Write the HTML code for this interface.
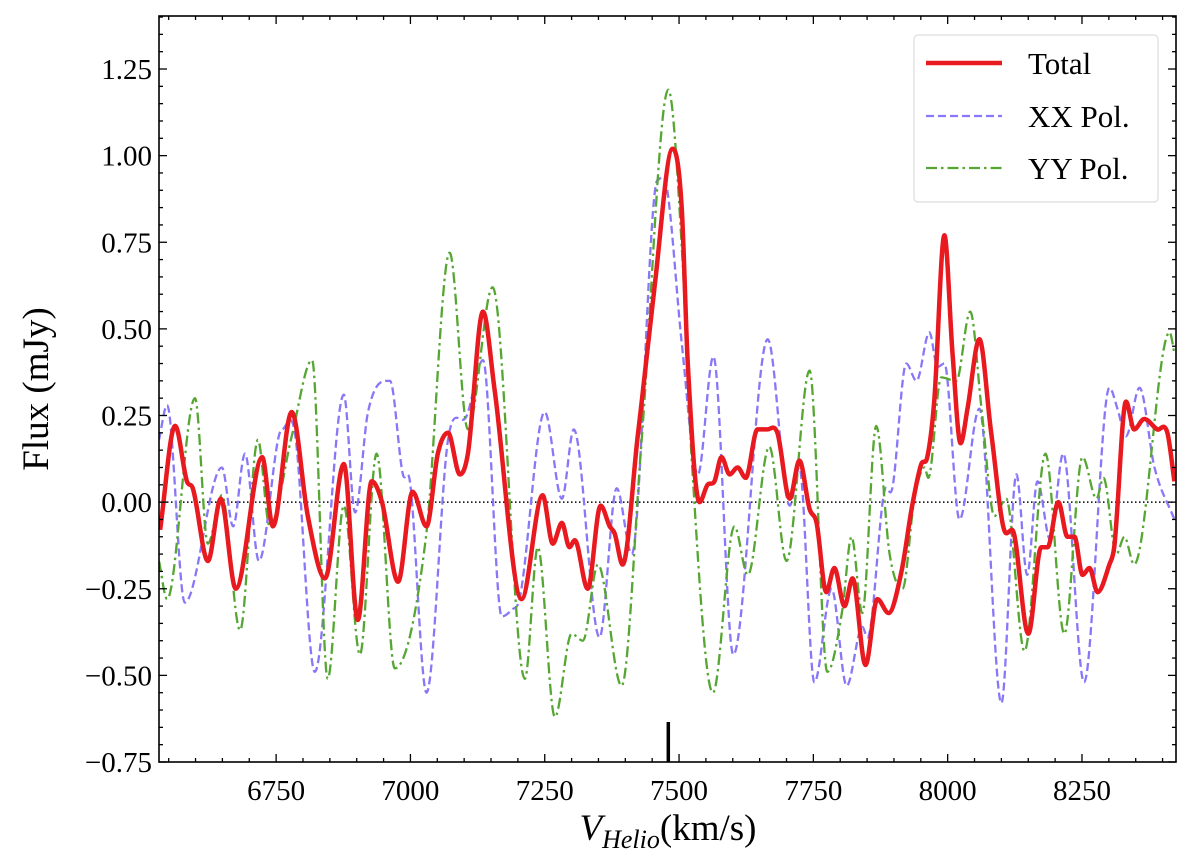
<!DOCTYPE html>
<html><head><meta charset="utf-8">
<style>
html,body{margin:0;padding:0;background:#fff;}
svg{display:block;font-family:"Liberation Serif","DejaVu Serif",serif;}
</style></head>
<body>
<svg id="chart" width="1200" height="857" viewBox="0 0 1200 857" xmlns="http://www.w3.org/2000/svg">
<g id="plot"></g>
</svg>
<script>
const totalV=[6534,6562,6584,6595,6623,6647,6675,6724,6744,6779,6809,6841,6876,6902,6928,6947,6977,7004,7030,7051,7070,7092,7107,7135,7157,7207,7246,7265,7282,7296,7306,7330,7354,7371,7380,7395,7423,7432,7455,7488,7505,7516,7538,7553,7566,7579,7594,7609,7624,7646,7665,7683,7706,7724,7743,7756,7774,7789,7808,7823,7847,7869,7890,7914,7934,7951,7962,7975,7994,8009,8024,8037,8059,8081,8109,8120,8150,8174,8186,8206,8223,8236,8251,8264,8279,8301,8310,8332,8347,8366,8390,8409,8422];
const totalF=[-0.08,0.22,0.06,0.04,-0.17,0.01,-0.25,0.13,-0.07,0.26,-0.04,-0.22,0.11,-0.34,0.06,0.0,-0.23,0.03,-0.07,0.14,0.2,0.08,0.14,0.55,0.32,-0.28,0.02,-0.12,-0.06,-0.13,-0.11,-0.25,-0.01,-0.07,-0.09,-0.18,0.19,0.31,0.63,1.02,0.85,0.41,0.0,0.05,0.06,0.13,0.08,0.1,0.07,0.21,0.21,0.2,0.01,0.12,-0.02,-0.06,-0.26,-0.19,-0.30,-0.22,-0.47,-0.28,-0.32,-0.20,-0.01,0.11,0.13,0.29,0.77,0.43,0.17,0.27,0.47,0.2,-0.09,-0.08,-0.38,-0.13,-0.13,0.0,-0.10,-0.10,-0.21,-0.19,-0.26,-0.18,-0.13,0.29,0.21,0.24,0.21,0.20,0.06];
const xxV=[6532,6547,6580,6649,6670,6692,6718,6761,6785,6822,6876,6897,6921,6962,6986,6999,7030,7070,7105,7135,7170,7189,7203,7250,7282,7304,7352,7384,7412,7460,7477,7505,7535,7564,7601,7665,7706,7724,7752,7784,7812,7841,7851,7882,7897,7923,7942,7966,7981,7994,8022,8059,8100,8128,8148,8167,8191,8215,8254,8301,8316,8332,8357,8385,8422];
const xxF=[0.18,0.28,-0.29,0.10,-0.07,0.14,-0.17,0.21,0.20,-0.49,0.31,-0.03,0.26,0.35,0.08,0.06,-0.55,0.18,0.25,0.41,-0.33,-0.31,-0.28,0.26,0.01,0.21,-0.39,0.04,-0.15,0.93,0.91,0.46,0.08,0.42,-0.44,0.47,-0.01,0.10,-0.52,-0.25,-0.53,-0.36,-0.39,0.03,0.04,0.40,0.35,0.49,0.39,0.40,-0.05,0.27,-0.58,0.08,-0.21,0.06,-0.11,0.14,-0.52,0.33,0.27,0.19,0.33,0.10,-0.05];
const yyV=[6532,6547,6599,6623,6649,6683,6716,6738,6779,6817,6846,6876,6906,6937,6971,7029,7073,7107,7153,7213,7237,7269,7300,7321,7349,7393,7430,7480,7505,7523,7563,7603,7628,7668,7700,7743,7776,7804,7821,7841,7867,7892,7916,7938,7957,7964,7988,8016,8042,8063,8087,8109,8143,8182,8217,8251,8277,8290,8314,8329,8347,8413,8422];
const yyF=[-0.17,-0.28,0.30,-0.12,0.02,-0.37,0.18,-0.07,0.19,0.41,-0.51,-0.01,-0.44,0.14,-0.48,-0.10,0.72,0.21,0.62,-0.51,-0.13,-0.62,-0.38,-0.40,-0.18,-0.53,0.17,1.19,0.74,0.14,-0.55,-0.07,-0.21,0.16,-0.17,0.38,-0.49,-0.31,-0.10,-0.32,0.22,-0.15,-0.25,0.01,0.10,0.07,0.36,0.35,0.55,0.27,-0.04,0.01,-0.43,0.14,-0.38,0.13,0.01,0.07,-0.15,-0.10,-0.18,0.49,0.43];
const xTicks=[6750,7000,7250,7500,7750,8000,8250];
const yTicks=[-0.75,-0.5,-0.25,0,0.25,0.5,0.75,1.0,1.25];
const yTickLabels=["\u22120.75","\u22120.50","\u22120.25","0.00","0.25","0.50","0.75","1.00","1.25"];
const markerV=[7480];

const L=159,R=1176,T=16,B=762;
const xMin=6532,xMax=8425,yMin=-0.75,yMax=1.403;
const X=v=>L+(v-xMin)/(xMax-xMin)*(R-L);
const Y=f=>B-(f-yMin)/(yMax-yMin)*(B-T);
const NS="http://www.w3.org/2000/svg";
const g=document.getElementById('plot');
function mk(tag,attrs,parent){const e=document.createElementNS(NS,tag);for(const k in attrs)e.setAttribute(k,attrs[k]);(parent||g).appendChild(e);return e;}

function smoothPath(vs,fs){
  const xs=vs.map(X),ys=fs.map(Y),n=xs.length;
  const d=[],m=new Array(n);
  for(let i=0;i<n-1;i++)d.push((ys[i+1]-ys[i])/(xs[i+1]-xs[i]));
  m[0]=d[0];m[n-1]=d[n-2];
  for(let i=1;i<n-1;i++){m[i]=(d[i-1]*d[i]<=0)?0:(d[i-1]+d[i])/2;}
  let p="M"+xs[0].toFixed(1)+","+ys[0].toFixed(1);
  for(let i=0;i<n-1;i++){const h=xs[i+1]-xs[i];
    p+=" C"+(xs[i]+h/3).toFixed(1)+","+(ys[i]+m[i]*h/3).toFixed(1)+" "+(xs[i+1]-h/3).toFixed(1)+","+(ys[i+1]-m[i+1]*h/3).toFixed(1)+" "+xs[i+1].toFixed(1)+","+ys[i+1].toFixed(1);}
  return p;
}
mk('clipPath',{id:'clip'}).appendChild(document.createElementNS(NS,'rect'));
const cr=g.querySelector('#clip rect');cr.setAttribute('x',L);cr.setAttribute('y',T);cr.setAttribute('width',R-L);cr.setAttribute('height',B-T);

const zl=mk('line',{x1:L,x2:R,y1:Y(0),y2:Y(0),stroke:'#000','stroke-width':1.5,'stroke-dasharray':'1.5,2.5'});



const pxx=mk('path',{d:smoothPath(xxV,xxF),fill:'none',stroke:'#8877f7','stroke-width':2.3,'stroke-dasharray':'8,4','clip-path':'url(#clip)'});


const pyy=mk('path',{d:smoothPath(yyV,yyF),fill:'none',stroke:'#55a632','stroke-width':2.3,'stroke-dasharray':'11,4,2.5,4','clip-path':'url(#clip)'});


const ptot=mk('path',{d:smoothPath(totalV,totalF),fill:'none',stroke:'#e8191f','stroke-width':4.5,'stroke-linejoin':'round','clip-path':'url(#clip)'});



markerV.forEach(v=>{const mline=mk('line',{x1:X(v),x2:X(v),y1:B-40,y2:B,stroke:'#000','stroke-width':3.5});

});

const frame=mk('rect',{x:L,y:T,width:R-L,height:B-T,fill:'none',stroke:'#000','stroke-width':1.6});



// ticks
for(let v=6550;v<=xMax;v+=50){const major=(v%250===0);const len=major?8:4;const x=X(v);
  mk('line',{x1:x,x2:x,y1:B,y2:B-len,stroke:'#000','stroke-width':1.3});
  mk('line',{x1:x,x2:x,y1:T,y2:T+len,stroke:'#000','stroke-width':1.3});}
for(let i=-15;i<=28;i++){const f=i*0.05;if(f<yMin-1e-9||f>yMax)continue;const major=(i%5===0);const len=major?8:4;const y=Y(f);
  mk('line',{x1:L,x2:L+len,y1:y,y2:y,stroke:'#000','stroke-width':1.3});
  mk('line',{x1:R,x2:R-len,y1:y,y2:y,stroke:'#000','stroke-width':1.3});}
xTicks.forEach(v=>{const t=mk('text',{x:X(v),y:B+38,'font-size':29,'text-anchor':'middle'});t.textContent=v;
  
  });
yTicks.forEach((f,i)=>{const t=mk('text',{x:152,y:Y(f)+10,'font-size':29,'text-anchor':'end'});t.textContent=yTickLabels[i];
  
  });

const xl=mk('text',{x:668,y:840,'font-size':37,'text-anchor':'middle'});
xl.innerHTML='<tspan font-style="italic">V</tspan><tspan font-style="italic" font-size="26" dy="8">Helio</tspan><tspan dy="-8">(km/s)</tspan>';


const yl=mk('text',{x:0,y:0,'font-size':37,'text-anchor':'middle',transform:'translate(48,389) rotate(-90)'});
yl.textContent='Flux (mJy)';



// legend
const lg=mk('g',{});


mk('rect',{x:914,y:35,width:244,height:167,rx:4,fill:'#fff','fill-opacity':0.85,stroke:'#ddd','stroke-width':1.2},lg);
const entries=[["Total",'#e8191f',4.5,'none',63],["XX Pol.",'#8877f7',2.3,'8,4',116],["YY Pol.",'#55a632',2.3,'11,4,2.5,4',168]];
entries.forEach(e=>{const eg=mk('g',{},lg);
  
  
  mk('line',{x1:926,x2:1002,y1:e[4],y2:e[4],stroke:e[1],'stroke-width':e[2],'stroke-dasharray':e[3]},eg);
  const t=mk('text',{x:1028,y:e[4]+11,'font-size':31},eg);t.textContent=e[0];});
</script>
</body></html>
